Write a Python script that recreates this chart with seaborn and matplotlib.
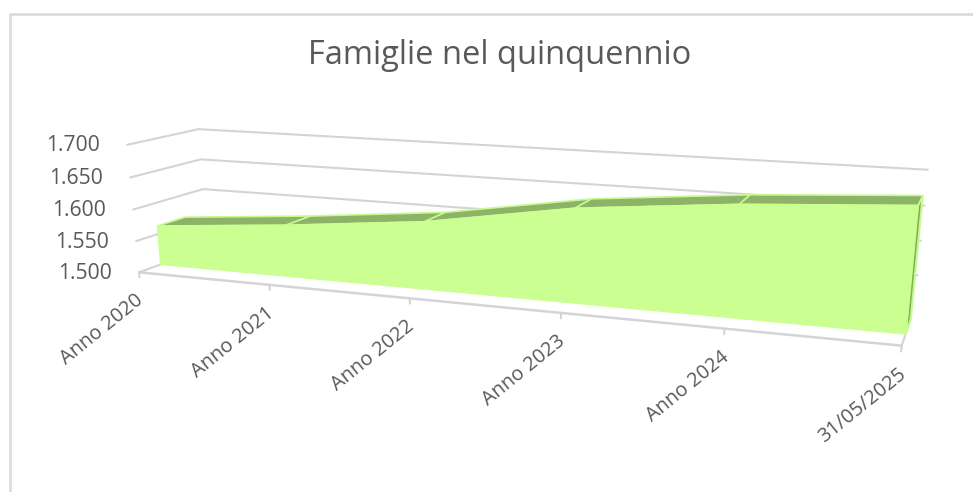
import numpy as np
import matplotlib
matplotlib.use("Agg")
import matplotlib.pyplot as plt
import seaborn as sns

# --- data ---
categories = ["Anno 2020", "Anno 2021", "Anno 2022", "Anno 2023", "Anno 2024", "31/05/2025"]
famiglie = [1.563, 1.581, 1.603, 1.639, 1.660, 1.674]
y_ticks = [1.5, 1.55, 1.6, 1.65, 1.7]
y_labels = ["1.500", "1.550", "1.600", "1.650", "1.700"]
title = "Famiglie nel quinquennio"

# --- 3D camera calibration: (category, value, depth) -> pixel ---
cal_world = [(0,1.5,0),(1,1.5,0),(2,1.5,0),(3,1.5,0),(4,1.5,0),(5,1.5,0),
             (0,1.55,0),(0,1.6,0),(0,1.65,0),(0,1.7,0),
             (0,1.6,1),(0,1.65,1),(0,1.7,1),(5,1.7,1),(5,1.65,1),
             (0,1.5,.3),(5,1.5,.3)]
cal_px = [(140,272),(269,285),(411,298),(558,312),(727,328),(902,345),
          (136,242),(133,210),(130,178),(127,145),
          (203,189),(201,159),(199,128),(927,167),(925,210),
          (160,265),(905,334)]

def _w(x, v, d):
    return np.array([x, (v - 1.5) / 0.2, d], float)

A, b = [], []
for (x, v, d), (u, t) in zip(cal_world, cal_px):
    X, Y, Z = _w(x, v, d)
    A.append([X, Y, Z, 1, 0, 0, 0, 0, -u*X, -u*Y, -u*Z]); b.append(u)
    A.append([0, 0, 0, 0, X, Y, Z, 1, -t*X, -t*Y, -t*Z]); b.append(t)
P = np.append(np.linalg.lstsq(np.array(A, float), np.array(b, float), rcond=None)[0], 1).reshape(3, 4)

def project(x, v, d):
    h = P @ np.append(_w(x, v, d), 1)
    return h[0] / h[2], h[1] / h[2]

# --- figure ---
sns.set_theme(style="white")
plt.rcParams["font.family"] = ["Open Sans", "DejaVu Sans"]
fig = plt.figure(figsize=(9.73, 4.92), dpi=100, facecolor="white")
ax = fig.add_axes([0, 0, 1, 1])
ax.set_xlim(0, 973)
ax.set_ylim(492, 0)
ax.axis("off")

GRID = "#D4D4D8"
TXT = "#595959"
FRONT = "#CBFF91"
TOP = "#8DB368"
SIDE = "#7DB258"
EDGE = "#C6FA8C"
D1, D2 = 0.3, 0.7
BASE = y_ticks[0]
n = len(categories)

def seg(points, color, lw, z=1):
    xs, ys = zip(*points)
    sns.lineplot(x=list(xs), y=list(ys), sort=False, estimator=None, color=color,
                 linewidth=lw, ax=ax, zorder=z, legend=False)

# chart border
seg([(10, 492), (10, 14), (973, 14)], "#DCDCDC", 2.0)

# gridlines on walls
for v in y_ticks:
    if v == BASE:
        seg([project(0, v, 0), project(0, v, 1)], GRID, 1.5, 2)
        seg([project(5, v, 0), project(5, v, D1)], GRID, 1.5, 2)
    else:
        seg([project(0, v, 0), project(0, v, 1), project(5, v, 1)], GRID, 1.5, 2)

# floor front edge and ticks
seg([project(0, BASE, 0), project(5, BASE, 0)], GRID, 1.8, 2)
for i in range(n):
    seg([project(i, BASE, 0), project(i, BASE - 0.008, 0)], GRID, 1.5, 2)

# area body
xs = np.arange(n)
side = [project(5, BASE, D1), project(5, famiglie[-1], D1),
        project(5, famiglie[-1], D2), project(5, BASE, D2)]
ax.fill(*zip(*side), facecolor=SIDE, edgecolor=EDGE, linewidth=1.5, zorder=3)
for i in range(n - 1):
    q = [project(i, famiglie[i], D1), project(i + 1, famiglie[i + 1], D1),
         project(i + 1, famiglie[i + 1], D2), project(i, famiglie[i], D2)]
    ax.fill(*zip(*q), facecolor=TOP, edgecolor=EDGE, linewidth=1.2, zorder=4)
front = [project(i, famiglie[i], D1) for i in xs] + [project(5, BASE, D1), project(0, BASE, D1)]
ax.fill(*zip(*front), facecolor=FRONT, edgecolor=FRONT, linewidth=1.0, zorder=5)

# text
ax.text(499.5, 55, title, ha="center", va="center", fontsize=23.5, color=TXT, zorder=6)
for v, lab in zip(y_ticks, y_labels):
    px, py = project(0, v, 0)
    ax.text(px - 27, py + 1, lab, ha="right", va="center", fontsize=15.2, color=TXT)
for i, lab in enumerate(categories):
    px, py = project(i, BASE, 0)
    ax.text(px + 2, py + 26, lab, ha="right", va="center", rotation=39,
            rotation_mode="anchor", fontsize=14.4, color=TXT)

fig.savefig("out.png", dpi=100)
